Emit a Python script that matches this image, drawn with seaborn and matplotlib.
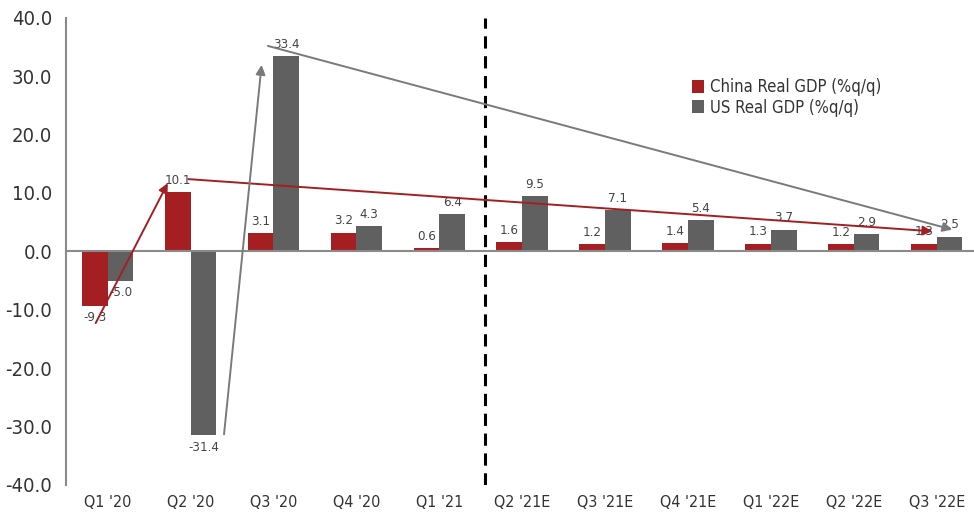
import matplotlib
matplotlib.use("Agg")
import matplotlib.pyplot as plt
import seaborn as sns
import pandas as pd
import numpy as np

quarters = ["Q1 '20", "Q2 '20", "Q3 '20", "Q4 '20", "Q1 '21", "Q2 '21E",
            "Q3 '21E", "Q4 '21E", "Q1 '22E", "Q2 '22E", "Q3 '22E"]
china = [-9.3, 10.1, 3.1, 3.2, 0.6, 1.6, 1.2, 1.4, 1.3, 1.2, 1.3]
us = [-5.0, -31.4, 33.4, 4.3, 6.4, 9.5, 7.1, 5.4, 3.7, 2.9, 2.5]
series = ["China Real GDP (%q/q)", "US Real GDP (%q/q)"]
yticks = [40, 30, 20, 10, 0, -10, -20, -30, -40]

RED = "#A51F22"
GRAY = "#606060"
AX = "#8a8a8a"

sns.set_theme(style="white")
plt.rcParams["font.family"] = ["DejaVu Sans"]
plt.rcParams["font.stretch"] = "condensed"

df = pd.DataFrame({
    "quarter": quarters * 2,
    "value": china + us,
    "series": [series[0]] * len(quarters) + [series[1]] * len(quarters),
})

fig = plt.figure(figsize=(9.74, 5.22), dpi=100)
ax = fig.add_axes([0.068, 0.071, 0.932, 0.895])
sns.barplot(data=df, x="quarter", y="value", hue="series", order=quarters,
            palette=[RED, GRAY], width=0.62, saturation=1, ax=ax, legend=True,
            linewidth=0)

ax.set_ylim(-40, 40)
ax.set_xlim(-0.5, 10.45)
ax.set_yticks(yticks)
ax.set_yticklabels([f"{v:.1f}" for v in yticks], fontsize=14.5, color="#333333")
ax.set_xlabel("")
ax.set_ylabel("")

for s in ["top", "right"]:
    ax.spines[s].set_visible(False)
ax.spines["left"].set_color(AX)
ax.spines["left"].set_linewidth(1.5)
ax.spines["bottom"].set_position(("data", 0))
ax.spines["bottom"].set_color(AX)
ax.spines["bottom"].set_linewidth(1.5)
ax.tick_params(axis="y", which="major", length=6, width=1.2, color=AX, direction="out", pad=4)
ax.set_xticks(range(len(quarters)))
ax.set_xticklabels([])
ax.tick_params(axis="x", which="major", length=0)
ax.set_xticks(np.arange(0.5, len(quarters) - 1, 1.0), minor=True)
ax.tick_params(axis="x", which="minor", length=5, width=1.2, color=AX, direction="out")

sec = ax.secondary_xaxis(0.0)
sec.set_xticks(range(len(quarters)))
sec.set_xticklabels(quarters, fontsize=11.5, color="#333333")
sec.tick_params(length=0, pad=7)
sec.spines["bottom"].set_visible(False)

# dashed separator between actuals and estimates
ax.axvline(4.55, color="black", linestyle=(0, (4, 2.5)), linewidth=2.2)

# value labels
off = 0.155
for i in range(len(quarters)):
    for vals, dx in ((china, -off), (us, off)):
        v = vals[i]
        ax.text(i + dx, v + (0.9 if v >= 0 else -1.0), f"{v:.1f}",
                ha="center", va="bottom" if v >= 0 else "top",
                fontsize=9.5, color="#444444")

# trend arrows
n = len(quarters) - 1
ax.annotate("", xy=(1 - 0.26, china[1] + 2.0), xytext=(-0.16, china[0] - 3.4),
            arrowprops=dict(arrowstyle="-|>", color=RED, lw=1.4, mutation_scale=14))
ax.annotate("", xy=(n - 0.02, china[n] + 2.1), xytext=(1 - 0.06, china[1] + 2.3),
            arrowprops=dict(arrowstyle="-|>", color=RED, lw=1.4, mutation_scale=14))
ax.annotate("", xy=(2 - 0.14, us[2] - 1.0), xytext=(1 + 0.40, us[1] - 0.4),
            arrowprops=dict(arrowstyle="-|>", color="#7a7a7a", lw=1.4, mutation_scale=14))
ax.annotate("", xy=(n + 0.22, us[n] + 1.1), xytext=(2 - 0.1, us[2] + 1.9),
            arrowprops=dict(arrowstyle="-|>", color="#7a7a7a", lw=1.4, mutation_scale=14))

leg = ax.legend(loc="upper left", bbox_to_anchor=(0.682, 0.885), frameon=False,
                fontsize=12, handlelength=0.7, handleheight=0.8, handletextpad=0.4,
                labelspacing=0.15, borderaxespad=0)
for t in leg.get_texts():
    t.set_color("#333333")

fig.savefig("out.png", dpi=100)
